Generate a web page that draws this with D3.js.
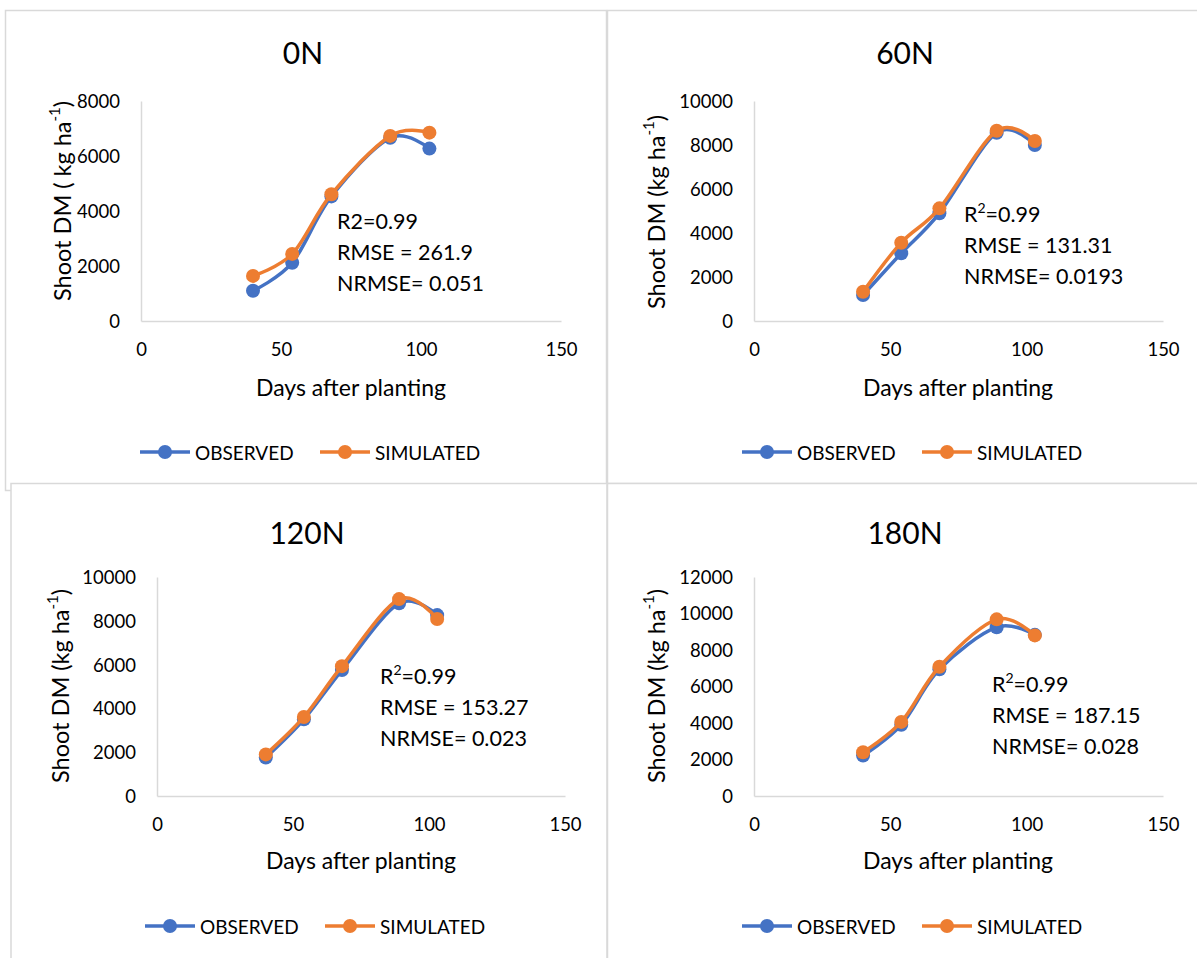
<!DOCTYPE html>
<html lang="en">
<head>
  <meta charset="UTF-8">
  <title>Shoot DM observed vs simulated</title>
  <style>
    body, html { margin: 0; padding: 0; background: #fff; }
    svg text { font-family: Lato, "Open Sans", sans-serif; fill: #000; }
  </style>
</head>
<body>
  <svg id="svg" width="1197" height="958"></svg>
  <script src="https://d3js.org/d3.v7.min.js"></script>
  <script>
    // values
    const panelTitles = ['0N', '60N', '120N', '180N']
    const days = [40, 54, 68, 89, 103]
    const obs0N = [1100, 2120, 4530, 6660, 6270]
    const sim0N = [1640, 2440, 4610, 6730, 6850]
    const obs60N = [1180, 3080, 4900, 8560, 8000]
    const sim60N = [1330, 3560, 5120, 8650, 8180]
    const obs120N = [1760, 3500, 5750, 8800, 8260]
    const sim120N = [1900, 3610, 5930, 8990, 8080]
    const obs180N = [2220, 3900, 6940, 9250, 8830]
    const sim180N = [2400, 4060, 7080, 9680, 8800]
    const yMaxes = [8000, 10000, 10000, 12000]
    const xTicks = [0, 50, 100, 150]
    const r2Values = ['0.99', '0.99', '0.99', '0.99']
    const rmseValues = ['261.9', '131.31', '153.27', '187.15']
    const nrmseValues = ['0.051', '0.0193', '0.023', '0.028']
    const seriesNames = ['OBSERVED', 'SIMULATED']
    const seriesColors = ['#4472C4', '#ED7D31']

    const observed = [obs0N, obs60N, obs120N, obs180N]
    const simulated = [sim0N, sim60N, sim120N, sim180N]

    // layout of each chart box (pixel positions on the page)
    const layout = [
      { box: [5.5, 10.5, 601, 480], titleX: 303, titleY: 52, x0: 141, x1: 561, y0: 321, y1: 101, statX: 337, statY: 221, yTitleX: 62, yTitleY: 201, xTitleX: 351, xTitleY: 387, legX: 140, legY: 452, r2Sup: false, yTitleSpace: true },
      { box: [607.5, 10.5, 595, 473], titleX: 905, titleY: 52, x0: 754, x1: 1163, y0: 321, y1: 101, statX: 964, statY: 214, yTitleX: 656, yTitleY: 212, xTitleX: 958, xTitleY: 387, legX: 742, legY: 452, r2Sup: true, yTitleSpace: false },
      { box: [11, 483.5, 596, 480], titleX: 307, titleY: 532, x0: 157, x1: 565, y0: 796, y1: 577, statX: 380, statY: 676, yTitleX: 60, yTitleY: 686, xTitleX: 361, xTitleY: 860, legX: 145, legY: 926, r2Sup: true, yTitleSpace: false },
      { box: [607.5, 483.5, 595, 480], titleX: 905, titleY: 532, x0: 754, x1: 1163, y0: 796, y1: 577, statX: 992, statY: 684, yTitleX: 656, yTitleY: 686, xTitleX: 958, xTitleY: 860, legX: 742, legY: 926, r2Sup: true, yTitleSpace: false }
    ]

    const svg = d3.select('#svg')

    layout.forEach((L, i) => {
      const g = svg.append('g')

      // chart frame
      g.append('rect')
        .attr('x', L.box[0]).attr('y', L.box[1])
        .attr('width', L.box[2]).attr('height', L.box[3])
        .attr('fill', '#fff')
        .attr('stroke', '#d9d9d9')
        .attr('stroke-width', 1.5)

      const x = d3.scaleLinear().domain([0, 150]).range([L.x0, L.x1])
      const y = d3.scaleLinear().domain([0, yMaxes[i]]).range([L.y0, L.y1])

      // title
      g.append('text')
        .attr('x', L.titleX).attr('y', L.titleY)
        .attr('text-anchor', 'middle')
        .attr('dominant-baseline', 'central')
        .style('font-size', '30px')
        .text(panelTitles[i])

      // axes
      const yAxis = d3.axisLeft(y)
        .tickValues(d3.range(0, yMaxes[i] + 1, 2000))
        .tickSize(0).tickPadding(21)
        .tickFormat(d3.format('d'))
      const xAxis = d3.axisBottom(x)
        .tickValues(xTicks)
        .tickSize(0).tickPadding(22)

      const ya = g.append('g').attr('transform', `translate(${L.x0},0)`).call(yAxis)
      const xa = g.append('g').attr('transform', `translate(0,${L.y0})`).call(xAxis)
      ;[ya, xa].forEach(a => {
        a.select('.domain').attr('stroke', '#d9d9d9').attr('stroke-width', 1.5)
        a.selectAll('text')
          .style('font-size', '18.5px')
          .style('font-family', 'Lato, sans-serif')
          .attr('fill', '#000')
      })
      ya.selectAll('text').attr('dy', '0.35em')

      // axis titles
      g.append('text')
        .attr('x', L.xTitleX).attr('y', L.xTitleY)
        .attr('text-anchor', 'middle')
        .attr('dominant-baseline', 'central')
        .style('font-size', '23px')
        .text('Days after planting')

      const yt = g.append('text')
        .attr('transform', `translate(${L.yTitleX},${L.yTitleY}) rotate(-90)`)
        .attr('text-anchor', 'middle')
        .attr('dominant-baseline', 'central')
        .style('font-size', '23.5px')
      yt.append('tspan').text(L.yTitleSpace ? 'Shoot DM ( kg ha' : 'Shoot DM (kg ha')
      yt.append('tspan').attr('dy', -8).style('font-size', '15px').text('-1')
      yt.append('tspan').attr('dy', 8).text(')')

      // series
      const line = d3.line()
        .x((d, j) => x(days[j]))
        .y(d => y(d))
        .curve(d3.curveCardinal)

      ;[observed[i], simulated[i]].forEach((vals, s) => {
        g.append('path')
          .datum(vals)
          .attr('d', line)
          .attr('fill', 'none')
          .attr('stroke', seriesColors[s])
          .attr('stroke-width', 3.5)
          .attr('stroke-linejoin', 'round')
        g.selectAll(null)
          .data(vals)
          .enter()
          .append('circle')
          .attr('cx', (d, j) => x(days[j]))
          .attr('cy', d => y(d))
          .attr('r', 7)
          .attr('fill', seriesColors[s])
      })

      // fit statistics
      const st = g.append('g').style('font-size', '21.5px')
      const r2 = st.append('text').attr('x', L.statX).attr('y', L.statY).attr('dominant-baseline', 'central')
      if (L.r2Sup) {
        r2.append('tspan').text('R')
        r2.append('tspan').attr('dy', -7).style('font-size', '14px').text('2')
        r2.append('tspan').attr('dy', 7).text('=' + r2Values[i])
      } else {
        r2.text('R2=' + r2Values[i])
      }
      st.append('text').attr('x', L.statX).attr('y', L.statY + 31).attr('dominant-baseline', 'central')
        .text('RMSE = ' + rmseValues[i])
      st.append('text').attr('x', L.statX).attr('y', L.statY + 62).attr('dominant-baseline', 'central')
        .text('NRMSE= ' + nrmseValues[i])

      // legend
      const leg = g.append('g').attr('transform', `translate(${L.legX},${L.legY})`)
      seriesNames.forEach((name, s) => {
        const lx = s * 180
        leg.append('line')
          .attr('x1', lx).attr('x2', lx + 50)
          .attr('y1', 0).attr('y2', 0)
          .attr('stroke', seriesColors[s])
          .attr('stroke-width', 3.5)
        leg.append('circle')
          .attr('cx', lx + 25).attr('cy', 0).attr('r', 7)
          .attr('fill', seriesColors[s])
        leg.append('text')
          .attr('x', lx + 55).attr('y', 0)
          .attr('dominant-baseline', 'central')
          .style('font-size', '19px')
          .text(name)
      })
    })
  </script>
</body>
</html>
